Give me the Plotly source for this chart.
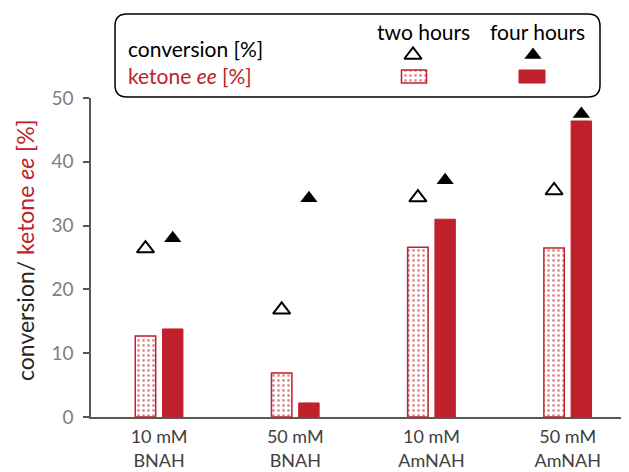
import plotly.graph_objects as go

categories = ["10 mM<br>BNAH", "50 mM<br>BNAH", "10 mM<br>AmNAH", "50 mM<br>AmNAH"]
conv_2h = [26.4, 16.8, 34.4, 35.5]
conv_4h = [28.0, 34.3, 37.1, 47.5]
ee_2h = [12.7, 6.9, 26.6, 26.5]
ee_4h = [13.8, 2.2, 31.0, 46.4]

RED = "#c0202a"
FONT = "Lato"
PAGE_W, PAGE_H = 629, 472
OFF = 8  # page body margin
W, H = PAGE_W - OFF, PAGE_H - OFF
pos = list(range(len(categories)))
left = [p - 0.1 for p in pos]
right = [p + 0.1 for p in pos]

open_tri = dict(symbol="triangle-up-open", size=15, color="black",
                line=dict(width=2, color="black"))
full_tri = dict(symbol="triangle-up", size=15, color="black")
dotted = dict(color="white", line=dict(color=RED, width=1.5),
              pattern=dict(shape=".", fgcolor=RED, bgcolor="white", size=5, solidity=0.25))
solid = dict(color=RED, line=dict(color=RED, width=1))

fig = go.Figure()

fig.add_trace(go.Bar(x=pos, y=ee_2h, width=0.15, offset=-0.175, marker=dotted))
fig.add_trace(go.Bar(x=pos, y=ee_4h, width=0.15, offset=0.025, marker=solid))
fig.add_trace(go.Scatter(x=left, y=conv_2h, mode="markers", marker=open_tri))
fig.add_trace(go.Scatter(x=right, y=conv_4h, mode="markers", marker=full_tri))

# legend box drawn in page pixel coordinates on a full-figure helper axis
fig.add_trace(go.Scatter(x=[413], y=[55], xaxis="x2", yaxis="y2", mode="markers", marker=open_tri))
fig.add_trace(go.Scatter(x=[533], y=[55], xaxis="x2", yaxis="y2", mode="markers", marker=full_tri))
fig.add_trace(go.Bar(x=[414], y=[13], base=[70], width=25, offset=-12.5,
                     xaxis="x2", yaxis="y2", marker=dotted))
fig.add_trace(go.Bar(x=[532], y=[13], base=[70], width=26, offset=-13,
                     xaxis="x2", yaxis="y2", marker=solid))

r = 12
x0, x1, y0, y1 = 115, 600, 14, 97
box = (f"M {x0+r},{y0} L {x1-r},{y0} Q {x1},{y0} {x1},{y0+r} L {x1},{y1-r} "
       f"Q {x1},{y1} {x1-r},{y1} L {x0+r},{y1} Q {x0},{y1} {x0},{y1-r} "
       f"L {x0},{y0+r} Q {x0},{y0} {x0+r},{y0} Z")
fig.add_shape(type="path", path=box, xref="x2", yref="y2",
              line=dict(color="black", width=1.5))

texts = [
    (126, 48, "conversion [%]", "black", "left"),
    (126, 75, "ketone <i>ee</i> [%]", RED, "left"),
    (423, 31, "two hours", "black", "center"),
    (537, 31, "four hours", "black", "center"),
]
for tx, ty, t, c, a in texts:
    fig.add_annotation(x=tx, y=ty, xref="x2", yref="y2", text=t, showarrow=False,
                       xanchor=a, yanchor="middle", font=dict(family=FONT, size=21, color=c))

# y axis title
fig.add_annotation(x=25, y=250, xref="x2", yref="y2", showarrow=False, textangle=-90,
                   text="conversion/ <span style='color:" + RED + "'>ketone <i>ee</i> [%]</span>",
                   xanchor="center", yanchor="middle",
                   font=dict(family=FONT, size=23, color="#262626"))

fig.update_layout(
    width=W, height=H,
    margin=dict(l=0, r=0, t=0, b=0, autoexpand=False),
    paper_bgcolor="white", plot_bgcolor="rgba(0,0,0,0)",
    showlegend=False, barmode="overlay",
    font=dict(family=FONT),
    xaxis=dict(domain=[(91 - OFF) / W, 1], range=[-0.5, 3.45], tickvals=pos, ticktext=categories,
               showline=True, linecolor="#595959", linewidth=1.5, ticks="",
               showgrid=False, zeroline=False, anchor="y", automargin=False,
               ticklabelstandoff=3,
               tickfont=dict(family=FONT, size=18, color="#404040")),
    yaxis=dict(domain=[1 - (417 - OFF) / H, 1 - (98 - OFF) / H], range=[0, 50], dtick=10, anchor="x",
               showline=True, linecolor="#595959", linewidth=1.5,
               ticks="outside", ticklen=6, tickcolor="#595959", tickwidth=1.5,
               showgrid=False, zeroline=False, ticklabelstandoff=6, automargin=False,
               tickfont=dict(family=FONT, size=19, color="#7f7f7f")),
    xaxis2=dict(domain=[0, 1], range=[OFF, PAGE_W], anchor="y2", visible=False, automargin=False),
    yaxis2=dict(domain=[0, 1], range=[PAGE_H, OFF], anchor="x2", visible=False, automargin=False),
)

fig.write_html("out.html")
